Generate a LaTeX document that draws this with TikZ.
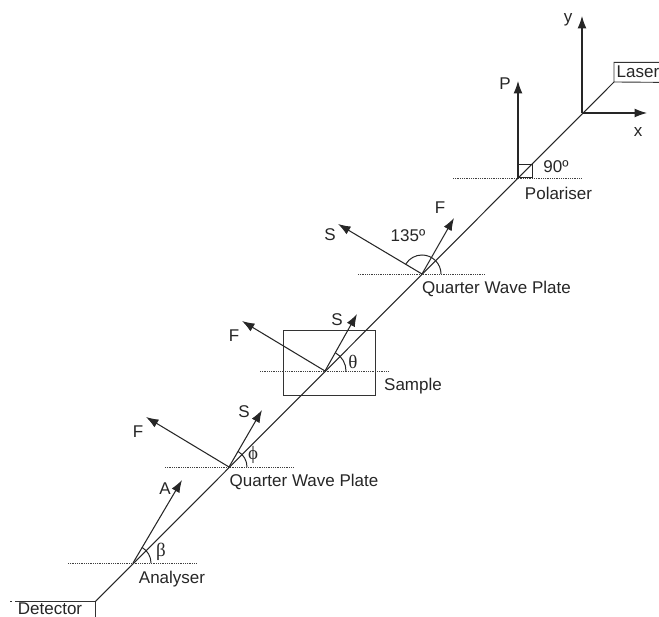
\documentclass[tikz,border=0pt]{standalone}
\usepackage{fontspec}
\setmainfont{Liberation Sans}
\newfontfamily\greekfont{Liberation Serif}
\usetikzlibrary{arrows.meta}
\tikzset{
  beam/.style={draw=black!85,line width=1.05pt},
  thinbox/.style={draw=black!80,line width=0.9pt},
  vec/.style={draw=black!85,line width=1.05pt,-{Latex[length=12.5pt,width=9pt]}},
  level/.style={draw=black!75,line width=0.85pt,dash pattern=on 0.9pt off 0.9pt},
  ang/.style={draw=black!85,line width=1pt},
  lab/.style={font=\fontsize{17}{19}\selectfont,text=black!85,inner sep=0pt},
  gr/.style={font=\fontsize{19}{21}\selectfont\greekfont,text=black!85,inner sep=0pt}
}
\begin{document}
\begin{tikzpicture}[x=1pt,y=1pt]
\useasboundingbox (0,0) rectangle (659,617);
% points
\coordinate (O) at (582,504);
\coordinate (Pol) at (518,439);
\coordinate (QA) at (422,343);
\coordinate (Sam) at (325,246);
\coordinate (QB) at (229,150);
\coordinate (An) at (133,54);
\coordinate (LaserC) at (614,535);
\coordinate (DetC) at (95,15);
\coordinate (yT) at (582,601);
\coordinate (xT) at (647,504);
\coordinate (PT) at (518,536);
\coordinate (QAF) at (454,399);
\coordinate (QAS) at (338,393);
\coordinate (SamS) at (357,303);
\coordinate (SamF) at (242,296);
\coordinate (QBS) at (262,207);
\coordinate (QBF) at (146,200);
\coordinate (AT) at (182,137);
% boxes
\draw[thinbox] (664,534.6) -- (LaserC) -- (614,554.6) -- (664,554.6);
\draw[thinbox] (15,15.4) -- (95,15.4) -- (95,-4);
\draw[thinbox] (10,15.4) -- (12,15.4);
\draw[thinbox] (283.4,221.4) rectangle (375.4,286.4);
% dotted levels
\draw[level] (453,439) -- (581,439);
\draw[level] (358,343) -- (485,343);
\draw[level] (260,246) -- (388,246);
\draw[level] (165,150) -- (293,150);
\draw[level] (68,54) -- (196,54);
% main beam
\draw[beam] (LaserC) -- (DetC);
% vectors
\draw[vec] (O) -- (yT);
\draw[vec] (O) -- (xT);
\draw[vec] (Pol) -- (PT);
\draw[vec] (QA) -- (QAF);
\draw[vec] (QA) -- (QAS);
\draw[vec] (Sam) -- (SamS);
\draw[vec] (Sam) -- (SamF);
\draw[vec] (QB) -- (QBS);
\draw[vec] (QB) -- (QBF);
\draw[vec] (An) -- (AT);
% angles
\draw[ang] (518,439) rectangle (532,452);
\draw[ang] (441,343) arc[start angle=0,end angle=149,radius=19];
\draw[ang] (346,246) arc[start angle=0,end angle=60,radius=21];
\draw[ang] (247,150) arc[start angle=0,end angle=60,radius=18];
\draw[ang] (151,54) arc[start angle=0,end angle=60,radius=18];
% labels
\node[lab] (ly) at (568,597) {y};
\node[lab] (lx) at (638,485) {x};
\node[lab] (lLaser) at (638,545) {Laser};
\node[lab] (lP) at (505,533) {P};
\node[lab] (l90) at (556,450) {90º};
\node[lab] (lPol) at (558.5,424) {Polariser};
\node[lab] (lF1) at (440,409) {F};
\node[lab] (l135) at (408,381) {135º};
\node[lab] (lS1) at (330,382) {S};
\node[lab] (lQ1) at (496.5,328) {Quarter Wave Plate};
\node[lab] (lS2) at (337,297) {S};
\node[lab] (lF2) at (234,281) {F};
\node[gr] (lth) at (353,255) {θ};
\node[lab] (lSam) at (413,231) {Sample};
\node[lab] (lS3) at (244,205) {S};
\node[lab] (lF3) at (138,185) {F};
\node[gr] (lphi) at (253,162) {ϕ};
\node[lab] (lQ2) at (304,135) {Quarter Wave Plate};
\node[lab] (lA) at (165,128) {A};
\node[gr] (lbe) at (161,65) {β};
\node[lab] (lAn) at (172,38) {Analyser};
\node[lab] (lDet) at (50,8) {Detector};
\end{tikzpicture}
\end{document}
